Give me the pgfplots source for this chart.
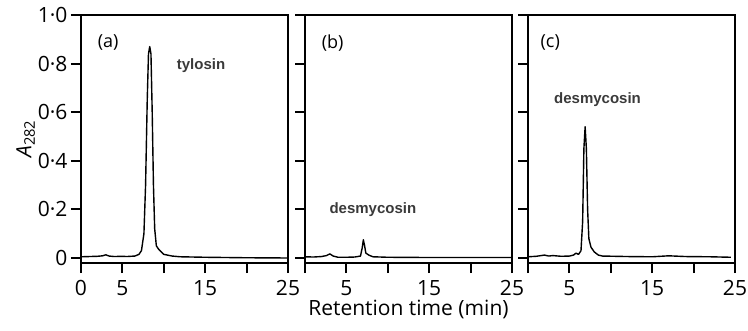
\documentclass[border=0pt]{standalone}
\usepackage{fontspec}
\setmainfont{Open Sans}
\newfontfamily\peakfont{Liberation Sans}
\usepackage{pgfplots}
\pgfplotsset{compat=1.18}
\definecolor{peakgray}{HTML}{3A3A3A}
\newcommand{\ticksize}{\fontsize{21}{25}\selectfont}
\pgfplotsset{panel/.style={
  scale only axis, width=207pt, height=248pt,
  xmin=0, xmax=25, ymin=-0.0206, ymax=1,
  axis line style={line width=2pt},
  every tick/.style={line width=2pt, black},
  tick align=outside, major tick length=10pt,
  xtick={0,5,10,15,20,25}, ytick={0,0.2,0.4,0.6,0.8,1.0},
  xtick pos=bottom, ytick pos=left,
  tick label style={font=\ticksize},
  xticklabel style={yshift=-4pt},
  clip=false,
}}
\pgfplotsset{trace/.style={black, no marks, line width=1.4pt, line join=round}}
\begin{document}
\begin{tikzpicture}
\useasboundingbox (0pt,0pt) rectangle (748pt,330pt);
% panel (a)
\begin{axis}[panel, at={(81pt,67pt)}, anchor=south west,
  xticklabels={0,5,,15,,25},
  yticklabels={0,0·2,0·4,0·6,0·8,1·0},
  ylabel={\textit{A}\textsubscript{282}},
  ylabel style={font=\ticksize, yshift=-4pt}]
\addplot[trace] coordinates {(0,0.005) (1,0.006) (2,0.007) (2.6,0.009) (3,0.013) (3.4,0.008) (4,0.006) (5,0.007) (5.5,0.006) (6.5,0.008) (7,0.015) (7.3,0.03) (7.6,0.1) (7.8,0.3) (8.0,0.65) (8.15,0.84) (8.3,0.87) (8.45,0.84) (8.6,0.6) (8.75,0.3) (8.9,0.12) (9.1,0.05) (9.4,0.035) (9.7,0.025) (10,0.015) (11,0.008) (12,0.005) (15,0.003) (20,0.001) (25,0.0)};
\node[anchor=west, font=\fontsize{18}{20}\selectfont] at (axis cs:1.6,0.885) {(a)};
\node[font=\peakfont\bfseries\fontsize{15}{18}\selectfont, text=peakgray] at (axis cs:14.5,0.79) {tylosin};
\end{axis}
% panel (b)
\begin{axis}[panel, at={(305pt,67pt)}, anchor=south west,
  xticklabels={,5,,15,,25}, yticklabels={},
  xlabel={Retention time (min)},
  xlabel style={font=\ticksize, yshift=3pt}]
\addplot[trace] coordinates {(0,0.005) (1,0.004) (2,0.006) (2.6,0.01) (3.0,0.017) (3.4,0.008) (4,0.003) (5,0.003) (6,0.004) (6.7,0.008) (6.9,0.04) (7.05,0.075) (7.2,0.05) (7.35,0.02) (7.7,0.012) (8.2,0.005) (10,0.003) (15,0.002) (20,0.002) (25,0.002)};
\node[anchor=west, font=\fontsize{18}{20}\selectfont] at (axis cs:1.6,0.885) {(b)};
\node[font=\peakfont\bfseries\fontsize{15}{18}\selectfont, text=peakgray] at (axis cs:8.2,0.2) {desmycosin};
\end{axis}
% panel (c)
\begin{axis}[panel, at={(528pt,67pt)}, anchor=south west,
  xticklabels={,5,,15,,25}, yticklabels={}]
\addplot[trace] coordinates {(0,0.005) (1,0.007) (2,0.012) (2.5,0.008) (3,0.01) (4,0.007) (5,0.008) (5.5,0.012) (5.8,0.02) (6.1,0.015) (6.4,0.03) (6.6,0.15) (6.75,0.45) (6.9,0.54) (7.05,0.45) (7.2,0.2) (7.35,0.08) (7.6,0.045) (8,0.025) (8.5,0.012) (9,0.008) (12,0.006) (15,0.005) (17,0.009) (19,0.006) (22,0.005) (24.5,0.003)};
\node[anchor=west, font=\fontsize{18}{20}\selectfont] at (axis cs:1.1,0.885) {(c)};
\node[font=\peakfont\bfseries\fontsize{15}{18}\selectfont, text=peakgray] at (axis cs:8.4,0.65) {desmycosin};
\end{axis}
\end{tikzpicture}
\end{document}
